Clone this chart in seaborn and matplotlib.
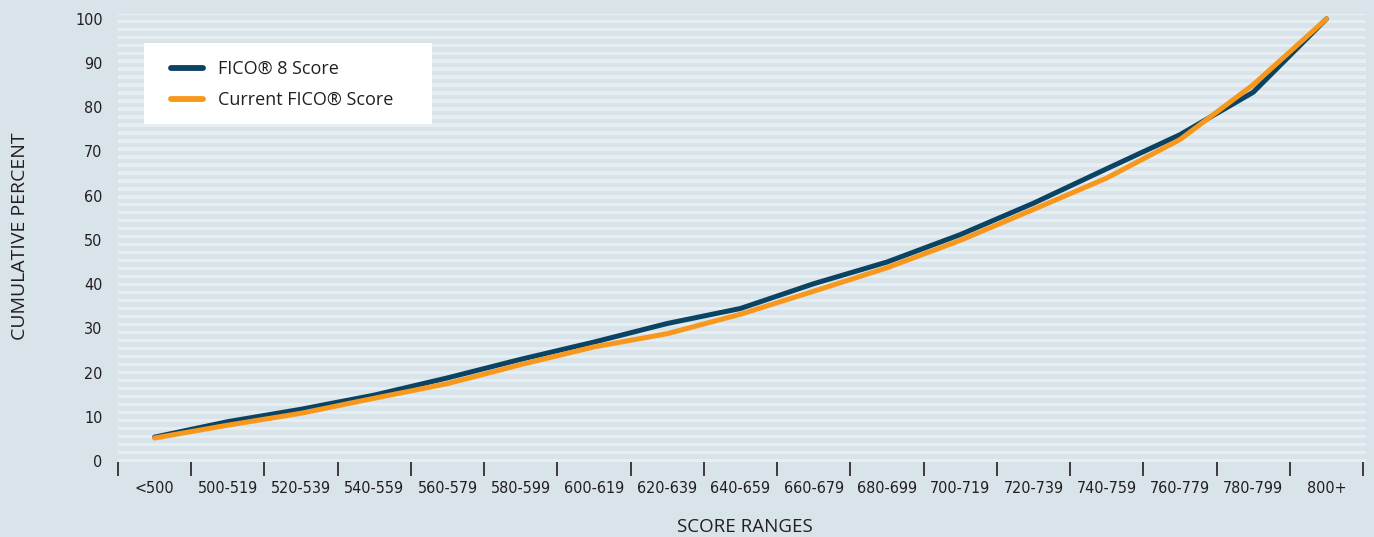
import numpy as np
import pandas as pd
import matplotlib
matplotlib.use("Agg")
import matplotlib.pyplot as plt
import seaborn as sns
from matplotlib.patches import Rectangle
from matplotlib.ticker import FixedLocator

# dane
score_ranges = ['<500', '500-519', '520-539', '540-559', '560-579', '580-599',
                '600-619', '620-639', '640-659', '660-679', '680-699', '700-719',
                '720-739', '740-759', '760-779', '780-799', '800+']
fico8 = [5.4, 8.9, 11.7, 14.9, 18.8, 23.0, 26.9, 31.1, 34.5, 40.1, 45.0,
         51.2, 58.3, 66.1, 73.8, 83.4, 100]
current = [5.2, 8.1, 10.8, 14.2, 17.5, 21.8, 25.8, 28.8, 33.2, 38.4, 43.7,
           49.9, 56.9, 64.0, 72.7, 85.1, 100]
series_names = ['FICO\u00ae 8 Score', 'Current FICO\u00ae Score']
y_ticks = [0, 10, 20, 30, 40, 50, 60, 70, 80, 90, 100]

BG = '#d8e3ea'
STRIPE = '#e6eef2'
NAVY = '#0b4363'
ORANGE = '#f7981d'
TXT = '#231f20'

df = pd.DataFrame({
    'pos': list(range(len(score_ranges))) * 2,
    'pct': fico8 + current,
    'series': [series_names[0]] * len(fico8) + [series_names[1]] * len(current),
})

sns.set_theme(style='white')
plt.rcParams['font.family'] = ['Open Sans', 'DejaVu Sans']

fig = plt.figure(figsize=(13.74, 5.37), dpi=100, facecolor=BG)
ax = fig.add_axes([118 / 1374, 1 - 462 / 537, 1248 / 1374, 448 / 537])
ax.set_facecolor(BG)

# paski w tle
for k in np.arange(-0.23, 101, 1.806):
    ax.axhspan(k, k + 0.74, color=STRIPE, lw=0, zorder=0)

sns.lineplot(data=df, x='pos', y='pct', hue='series', hue_order=series_names,
             palette=[NAVY, ORANGE], linewidth=3.6, sort=False, legend=False,
             ax=ax, zorder=3)

ax.set_xlim(-0.5, 16.54)
ax.set_ylim(-0.23, 101.1)
for s in ax.spines.values():
    s.set_visible(False)

ax.set_xticks(range(len(score_ranges)))
ax.set_xticklabels(score_ranges, fontfamily='DejaVu Sans', fontstretch='condensed',
                   fontsize=11.5, color=TXT)
ax.xaxis.set_minor_locator(FixedLocator(np.arange(-0.5, 17, 1)))
ax.tick_params(axis='x', which='major', length=0, pad=14)
ax.tick_params(axis='x', which='minor', length=10, width=1.2, color=TXT,
               direction='out', bottom=True)
ax.set_yticks(y_ticks)
ax.set_yticklabels([str(v) for v in y_ticks], fontfamily='DejaVu Sans',
                   fontstretch='condensed', fontsize=11.5, color=TXT)
ax.tick_params(axis='y', length=0, pad=11)
ax.set_xlabel('')
ax.set_ylabel('')

fig.text(745 / 1374, 1 - 527 / 537, 'SCORE RANGES', ha='center', va='center',
         fontsize=13.5, color=TXT)
fig.text(20 / 1374, 1 - 236 / 537, 'CUMULATIVE PERCENT', ha='center', va='center',
         rotation=90, fontsize=14, color=TXT)

# legenda
fig.patches.append(Rectangle((144 / 1374, 1 - 124 / 537), 288 / 1374, 81 / 537,
                             transform=fig.transFigure, facecolor='white',
                             edgecolor='none', zorder=5))
handles = [plt.Line2D([], [], color=c, lw=4.2) for c in (NAVY, ORANGE)]
leg = fig.legend(handles, series_names, loc='upper left',
                 bbox_to_anchor=(171 / 1374, 1 - 60 / 537), frameon=False,
                 borderpad=0, borderaxespad=0, handlelength=1.75,
                 handletextpad=0.85, labelspacing=0.72, fontsize=13)
for t in leg.get_texts():
    t.set_color(TXT)
leg.set_zorder(6)

fig.savefig('out.png', dpi=100, facecolor=BG)
